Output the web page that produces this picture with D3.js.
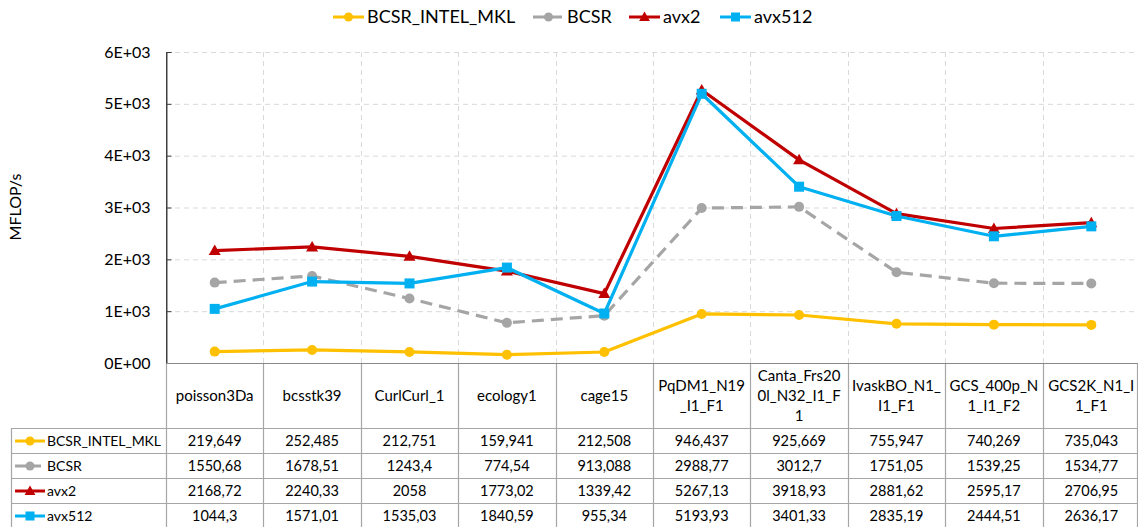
<!DOCTYPE html>
<html><head><meta charset="utf-8">
<script src="https://cdn.jsdelivr.net/npm/d3@7"></script>
<style>body{margin:0;background:#fff}svg{display:block;font-family:Lato,"Noto Sans",sans-serif}</style>
</head><body><svg id="c" width="1138" height="527"></svg>
<script>
const categories = ["poisson3Da","bcsstk39","CurlCurl_1","ecology1","cage15","PqDM1_N19_I1_F1","Canta_Frs200l_N32_I1_F1","IvaskBO_N1_I1_F1","GCS_400p_N1_I1_F2","GCS2K_N1_I1_F1"];
const categoryLines = [["poisson3Da"],["bcsstk39"],["CurlCurl_1"],["ecology1"],["cage15"],["PqDM1_N19","_I1_F1"],["Canta_Frs20","0l_N32_I1_F","1"],["IvaskBO_N1_","I1_F1"],["GCS_400p_N","1_I1_F2"],["GCS2K_N1_I","1_F1"]];
const seriesNames = ["BCSR_INTEL_MKL","BCSR","avx2","avx512"];
const mkl = [219.649,252.485,212.751,159.941,212.508,946.437,925.669,755.947,740.269,735.043];
const bcsr = [1550.68,1678.51,1243.4,774.54,913.088,2988.77,3012.7,1751.05,1539.25,1534.77];
const avx2 = [2168.72,2240.33,2058,1773.02,1339.42,5267.13,3918.93,2881.62,2595.17,2706.95];
const avx512 = [1044.3,1571.01,1535.03,1840.59,955.34,5193.93,3401.33,2835.19,2444.51,2636.17];
const yTicks = [0,1000,2000,3000,4000,5000,6000];
const yTickLabels = ["0E+00","1E+03","2E+03","3E+03","4E+03","5E+03","6E+03"];
const yLabel = "MFLOP/s";

const series = [
  {name:seriesNames[0], values:mkl, color:"#FFC000", dash:null, marker:"circle"},
  {name:seriesNames[1], values:bcsr, color:"#A5A5A5", dash:"12,7", marker:"circle"},
  {name:seriesNames[2], values:avx2, color:"#C00000", dash:null, marker:"triangle"},
  {name:seriesNames[3], values:avx512, color:"#00B0F0", dash:null, marker:"square"}
];

const svg = d3.select("#c");
const L = 166, R = 1140, T = 52, B = 363;
const x = d3.scaleBand().domain(categories).range([L, R]);
const y = d3.scaleLinear().domain([0, 6000]).range([B, T]);

// grid
const g = svg.append("g");
g.selectAll("line.h").data(yTicks.filter(d=>d>0)).join("line")
  .attr("x1", L).attr("x2", 1137).attr("y1", d=>y(d)+0.5).attr("y2", d=>y(d)+0.5)
  .attr("stroke","#d9d9d9").attr("stroke-dasharray","5,4");
g.selectAll("line.v").data(categories.slice(1)).join("line")
  .attr("x1", d=>Math.round(x(d))+0.5).attr("x2", d=>Math.round(x(d))+0.5).attr("y1", T).attr("y2", B)
  .attr("stroke","#d9d9d9").attr("stroke-dasharray","5,4");

// y axis
const yAxis = d3.axisLeft(y).tickValues(yTicks).tickFormat((d,i)=>yTickLabels[i]).tickSize(-5).tickPadding(16);
const ya = svg.append("g").attr("transform",`translate(${L+0.5},0)`).call(yAxis);
ya.select(".domain").attr("stroke","#404040");
ya.selectAll(".tick line").attr("stroke","#404040");
ya.selectAll("text").attr("font-size",16).attr("fill","#000").attr("font-family","Lato");

svg.append("text").attr("transform",`translate(21,207) rotate(-90)`).attr("text-anchor","middle")
  .attr("font-size",16).text(yLabel);

// table
const rowTop = 428, rowH = 25, tblL = 11.5, tblR = 1137.5;
const tb = svg.append("g").attr("stroke","#a6a6a6").attr("stroke-width",1.2);
const bounds = categories.map(c=>Math.round(x(c))+0.5);
tb.selectAll("line.hv").data(bounds.slice(1).concat([tblR])).join("line")
  .attr("x1",d=>d).attr("x2",d=>d).attr("y1",B).attr("y2",527);
tb.append("line").attr("x1",tblL).attr("x2",tblL).attr("y1",rowTop).attr("y2",527);
tb.selectAll("line.hr").data(d3.range(5)).join("line")
  .attr("x1",tblL).attr("x2",tblR).attr("y1",d=>rowTop+d*rowH+0.5).attr("y2",d=>rowTop+d*rowH+0.5);
svg.append("line").attr("x1",L+0.5).attr("x2",L+0.5).attr("y1",B).attr("y2",527).attr("stroke","#a6a6a6").attr("stroke-width",1.2);
svg.append("line").attr("x1",L).attr("x2",tblR).attr("y1",B+0.5).attr("y2",B+0.5).attr("stroke","#898989").attr("stroke-width",1.2);
svg.append("line").attr("x1",L+0.5).attr("x2",L+0.5).attr("y1",T).attr("y2",B).attr("stroke","#404040");

// header labels
const hdr = svg.append("g").attr("font-size",15).attr("text-anchor","middle");
categories.forEach((c,i)=>{
  const lines = categoryLines[i];
  const cx = x(c)+x.bandwidth()/2;
  const lh = 20, cy = 396;
  const y0 = cy - (lines.length-1)*lh/2;
  lines.forEach((t,j)=>hdr.append("text").attr("x",cx).attr("y",y0+j*lh).attr("dy","0.35em").text(t));
});

function marker(sel, s, cx, cy, sz){
  if(s.marker==="circle") sel.append("circle").attr("cx",cx).attr("cy",cy).attr("r",sz/2).attr("fill",s.color);
  else if(s.marker==="square") sel.append("rect").attr("x",cx-sz/2).attr("y",cy-sz/2).attr("width",sz).attr("height",sz).attr("fill",s.color);
  else sel.append("path").attr("d",`M${cx},${cy-sz*0.6}L${cx+sz*0.6},${cy+sz*0.45}L${cx-sz*0.6},${cy+sz*0.45}Z`).attr("fill",s.color);
}

// table rows
const tr = svg.append("g").attr("font-size",14.5);
series.forEach((s,i)=>{
  const cy = rowTop + i*rowH + rowH/2 + 0.5;
  tr.append("line").attr("x1",15).attr("x2",45).attr("y1",cy).attr("y2",cy).attr("stroke",s.color).attr("stroke-width",3).attr("stroke-dasharray",s.dash?"11,4":null);
  marker(tr, s, 30, cy, 9);
  tr.append("text").attr("x",47).attr("y",cy).attr("dy","0.35em").attr("font-size",14).attr("textLength",114).text(s.name === "BCSR_INTEL_MKL" ? s.name : s.name)
    .attr("textLength", s.name === "BCSR_INTEL_MKL" ? 114 : null);
  s.values.forEach((v,j)=>{
    tr.append("text").attr("x",x(categories[j])+x.bandwidth()/2).attr("y",cy).attr("dy","0.35em")
      .attr("text-anchor","middle").text(String(v).replace(".",","));
  });
});

// lines
const line = d3.line().x((d,i)=>x(categories[i])+x.bandwidth()/2).y(d=>y(d));
const lg = svg.append("g");
series.forEach(s=>{
  lg.append("path").attr("d",line(s.values)).attr("fill","none").attr("stroke",s.color)
    .attr("stroke-width",3.2).attr("stroke-dasharray",s.dash).attr("stroke-linejoin","round");
  s.values.forEach((v,j)=>marker(lg, s, x(categories[j])+x.bandwidth()/2, y(v), 10));
});

// legend
const legX = [333, 533, 629, 720];
const lgd = svg.append("g").attr("font-size",18);
series.forEach((s,i)=>{
  const cy = 17;
  lgd.append("line").attr("x1",legX[i]).attr("x2",legX[i]+31).attr("y1",cy).attr("y2",cy).attr("stroke",s.color).attr("stroke-width",3).attr("stroke-dasharray",s.dash?"12,5":null);
  marker(lgd, s, legX[i]+15.5, cy, 9);
  lgd.append("text").attr("x",legX[i]+34).attr("y",cy).attr("dy","0.35em").text(s.name);
});
</script></body></html>
